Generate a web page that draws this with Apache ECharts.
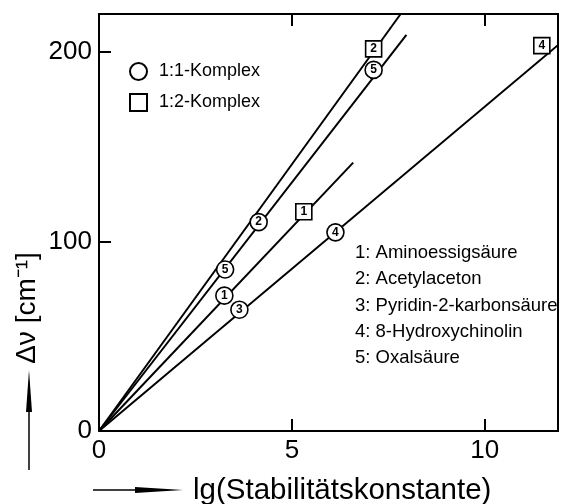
<!DOCTYPE html>
<html>
<head>
<meta charset="utf-8">
<script src="https://cdn.jsdelivr.net/npm/echarts@6/dist/echarts.min.js"></script>
<style>html,body{margin:0;padding:0;background:#fff}#c{width:561px;height:504px}</style>
</head>
<body>
<div id="c"></div>
<script>
// ---- data ----
const xTicks = [0, 5, 10];
const yTicks = [0, 100, 200];
const circleX = [4.14, 3.27, 3.25, 3.64, 6.13, 7.12];
const circleY = [110.2, 85.2, 71.4, 64.0, 104.8, 190.5];
const circleLabels = ['2', '5', '1', '3', '4', '5'];
const squareX = [5.31, 7.12, 11.48];
const squareY = [115.7, 201.6, 203.3];
const squareLabels = ['1', '2', '4'];
const lineStartX = [0, 0, 0, 0];
const lineStartY = [0, 0, 0, 0];
const lineEndX = [7.82, 7.97, 6.59, 12.0];
const lineEndY = [220.0, 209.0, 141.6, 205.3];
const legendNames = ['1:1-Komplex', '1:2-Komplex'];
const compoundNames = ['1: Aminoessigsäure', '2: Acetylaceton', '3: Pyridin-2-karbonsäure', '4: 8-Hydroxychinolin', '5: Oxalsäure'];
const xTitle = 'lg(Stabilitätskonstante)';
const yTitle = 'Δν [cm⁻¹]';

const FONT = 'Liberation Sans';
const chart = echarts.init(document.getElementById('c'), null, {renderer: 'canvas'});

const lineSeries = lineEndX.map((ex, i) => ({
  type: 'line',
  data: [[lineStartX[i], lineStartY[i]], [ex, lineEndY[i]]],
  showSymbol: false,
  symbol: 'none',
  clip: false,
  silent: true,
  z: 2,
  lineStyle: {color: '#000', width: 2},
  animation: false
}));

const markerLabel = (labels) => ({
  show: true,
  position: 'inside',
  formatter: (p) => labels[p.dataIndex],
  color: '#000',
  fontSize: 12,
  fontFamily: FONT,
  fontWeight: 'bold'
});

const listGraphics = compoundNames.map((t, i) => ({
  type: 'text',
  x: 355,
  y: 253 + i * 26.3,
  style: {text: t, fontSize: 18.5, fontFamily: FONT, fill: '#000', verticalAlign: 'middle', align: 'left'}
}));

chart.setOption({
  animation: false,
  backgroundColor: '#fff',
  grid: {left: 99, right: 3, top: 14, bottom: 73, containLabel: false},
  legend: {
    orient: 'vertical',
    left: 124,
    top: 57,
    itemWidth: 17,
    itemHeight: 17,
    itemGap: 12,
    selectedMode: false,
    data: [{name: legendNames[0], icon: 'circle'}, {name: legendNames[1], icon: 'rect'}],
    textStyle: {fontSize: 18, fontFamily: FONT, color: '#000', padding: [0, 0, 0, 7]}
  },
  xAxis: [{
    type: 'value', min: 0, max: 11.9, position: 'bottom',
    axisLine: {onZero: false, lineStyle: {color: '#000', width: 2}},
    axisTick: {inside: true, length: 12, customValues: xTicks, lineStyle: {color: '#000', width: 2}},
    axisLabel: {customValues: xTicks, fontSize: 26, fontFamily: FONT, color: '#000', margin: 7},
    splitLine: {show: false}
  }, {
    type: 'value', min: 0, max: 11.9, position: 'top',
    axisLine: {show: true, onZero: false, lineStyle: {color: '#000', width: 2}},
    axisTick: {show: true, inside: true, length: 12, customValues: [5, 10], lineStyle: {color: '#000', width: 2}},
    axisLabel: {show: false},
    splitLine: {show: false}
  }],
  yAxis: [{
    type: 'value', min: 0, max: 220, position: 'left',
    axisLine: {onZero: false, lineStyle: {color: '#000', width: 2}},
    axisTick: {inside: true, length: 12, customValues: yTicks, lineStyle: {color: '#000', width: 2}},
    axisLabel: {customValues: yTicks, fontSize: 26, fontFamily: FONT, color: '#000', margin: 7},
    splitLine: {show: false}
  }, {
    type: 'value', min: 0, max: 220, position: 'right',
    axisLine: {show: true, onZero: false, lineStyle: {color: '#000', width: 2}},
    axisTick: {show: false},
    axisLabel: {show: false},
    splitLine: {show: false}
  }],
  series: lineSeries.concat([{
    name: legendNames[0],
    type: 'scatter',
    symbol: 'circle',
    symbolSize: 17,
    z: 5,
    data: circleX.map((x, i) => [x, circleY[i]]),
    itemStyle: {color: '#fff', borderColor: '#000', borderWidth: 1.6, opacity: 1},
    label: markerLabel(circleLabels)
  }, {
    name: legendNames[1],
    type: 'scatter',
    symbol: 'rect',
    symbolSize: 16,
    z: 5,
    data: squareX.map((x, i) => [x, squareY[i]]),
    itemStyle: {color: '#fff', borderColor: '#000', borderWidth: 1.6, opacity: 1},
    label: markerLabel(squareLabels)
  }]),
  graphic: listGraphics.concat([
    {type: 'text', x: 193, y: 491,
     style: {text: xTitle, fontSize: 29.5, fontFamily: FONT, fill: '#000', verticalAlign: 'middle', align: 'left'}},
    {type: 'line', shape: {x1: 93, y1: 490, x2: 140, y2: 490}, style: {stroke: '#000', lineWidth: 1.5}},
    {type: 'polygon', shape: {points: [[135, 487], [183, 490], [135, 493]]}, style: {fill: '#000'}},
    {type: 'text', x: 27, y: 308, rotation: Math.PI / 2,
     style: {text: yTitle, fontSize: 28, fontFamily: FONT, fill: '#000', verticalAlign: 'middle', align: 'center'}},
    {type: 'line', shape: {x1: 29, y1: 470, x2: 29, y2: 405}, style: {stroke: '#000', lineWidth: 1.5}},
    {type: 'polygon', shape: {points: [[26, 412], [29, 370], [32, 412]]}, style: {fill: '#000'}}
  ])
});
</script>
</body>
</html>
